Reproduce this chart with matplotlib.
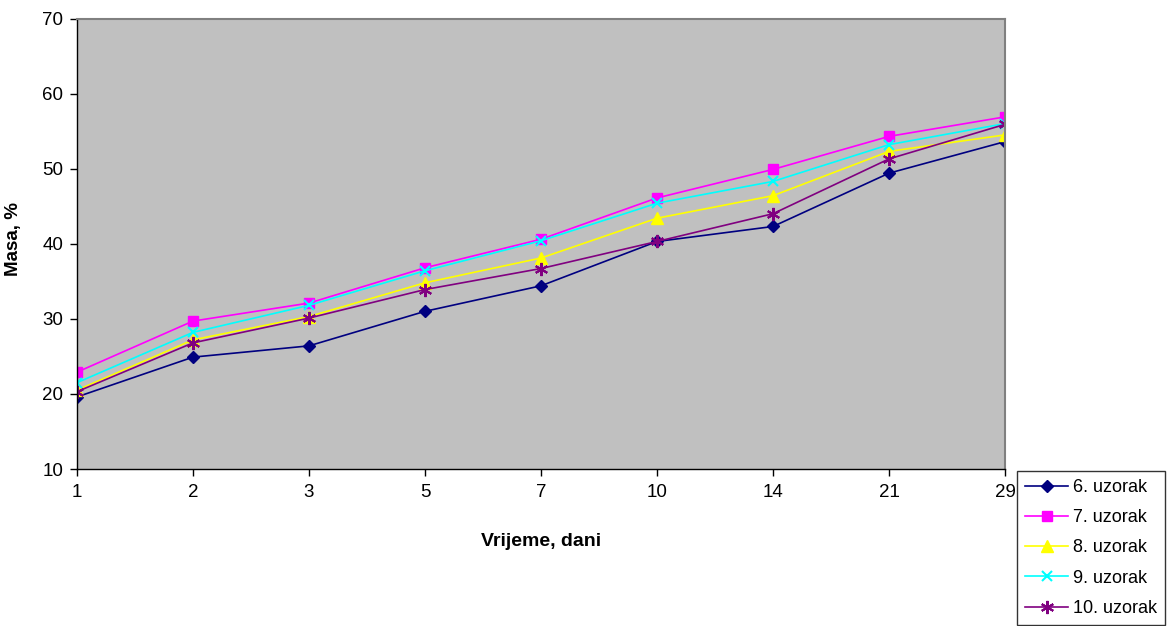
import matplotlib
matplotlib.use('Agg')
import matplotlib.pyplot as plt
import numpy as np

plt.rcParams['font.family'] = ['Liberation Sans', 'DejaVu Sans']

days = ['1', '2', '3', '5', '7', '10', '14', '21', '29']
uzorak_6 = [19.6, 24.9, 26.4, 31.0, 34.4, 40.3, 42.3, 49.4, 53.6]
uzorak_7 = [22.9, 29.7, 32.1, 36.8, 40.6, 46.1, 49.9, 54.3, 56.9]
uzorak_8 = [20.5, 27.2, 30.3, 34.8, 38.1, 43.4, 46.4, 52.3, 54.5]
uzorak_9 = [21.5, 28.2, 31.8, 36.4, 40.4, 45.4, 48.3, 53.2, 56.0]
uzorak_10 = [20.3, 26.8, 30.1, 33.9, 36.7, 40.3, 44.0, 51.3, 55.9]
labels = ['6. uzorak', '7. uzorak', '8. uzorak', '9. uzorak', '10. uzorak']

series = [
    (uzorak_6, '#000080', 'D', 6.5),
    (uzorak_7, '#FF00FF', 's', 6.5),
    (uzorak_8, '#FFFF00', '^', 8),
    (uzorak_9, '#00FFFF', 'x', 7.5),
    (uzorak_10, '#800080', (6, 2, 0), 9.5),
]

fig = plt.figure(figsize=(11.73, 6.26), dpi=100)
ax = fig.add_axes([77 / 1173, 1 - 469 / 626, (1005 - 77) / 1173, (469 - 18.5) / 626])
ax.set_facecolor('#C0C0C0')

x = np.arange(len(days))
for (vals, color, marker, ms), label in zip(series, labels):
    ax.plot(x, vals, color=color, marker=marker, markersize=ms, linewidth=1.2,
            markeredgewidth=1.5 if marker in ('x', (6, 2, 0)) else 1,
            markeredgecolor=color, markerfacecolor=color, label=label)

ax.set_xlim(0, len(days) - 1)
ax.set_ylim(10, 70)
ax.set_xticks(x)
ax.set_xticklabels(days)
ax.set_yticks(range(10, 71, 10))
ax.tick_params(axis='both', labelsize=13.5, length=5, width=1, color='black', direction='out')
ax.tick_params(axis='y', pad=5)
ax.tick_params(axis='x', pad=6)

for s in ['top', 'right']:
    ax.spines[s].set_color('#808080')
    ax.spines[s].set_linewidth(1.5)
for s in ['left', 'bottom']:
    ax.spines[s].set_color('black')
    ax.spines[s].set_linewidth(1)

ax.set_xlabel('Vrijeme, dani', fontsize=14, fontweight='bold', labelpad=23)
ax.set_ylabel('Masa, %', fontsize=13.5, fontweight='bold')
ax.yaxis.set_label_coords(-0.059, 0.51)

leg = fig.legend(loc='upper left', bbox_to_anchor=(1017 / 1173, 1 - 471 / 626),
                 fontsize=13, frameon=True, fancybox=False, edgecolor='black',
                 handlelength=2.4, labelspacing=0.73, borderpad=0.45,
                 handletextpad=0.25, borderaxespad=0)
leg.get_frame().set_linewidth(1)

fig.savefig('out.png', dpi=100)
